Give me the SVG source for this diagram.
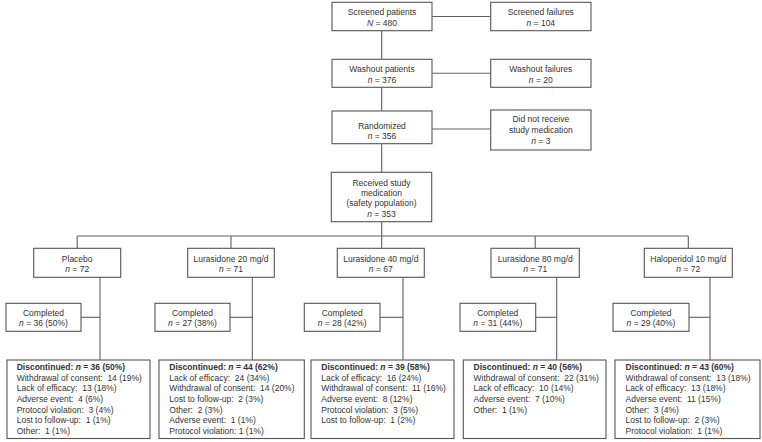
<svg xmlns="http://www.w3.org/2000/svg" width="762" height="442" viewBox="0 0 762 442">
<style>
  .box { fill: #ffffff; stroke: #555555; stroke-width: 1.1; }
  .ln { fill: none; stroke: #606060; stroke-width: 1.1; }
  text { font-family: "Liberation Sans", Arial, sans-serif; font-size: 8.5px; fill: #333333; white-space: pre; }
  .c { text-anchor: middle; }
  .b { font-weight: bold; }
  .i { font-style: italic; }
</style>
<rect width="762" height="442" fill="#ffffff"/>

<g id="connectors">
  <line class="ln" x1="432" y1="16.5" x2="490.7" y2="16.5"/>
  <line class="ln" x1="432" y1="73.3" x2="490.7" y2="73.3"/>
  <line class="ln" x1="432" y1="129" x2="490.7" y2="129"/>
  <line class="ln" x1="381.7" y1="30.7" x2="381.7" y2="59.3"/>
  <line class="ln" x1="381.7" y1="87.3" x2="381.7" y2="111"/>
  <line class="ln" x1="381.7" y1="143.7" x2="381.7" y2="172.3"/>
  <line class="ln" x1="381.7" y1="221.7" x2="381.7" y2="236"/>
  <line class="ln" x1="77.2" y1="236" x2="688.3" y2="236"/>
  <line class="ln" x1="77.2" y1="236" x2="77.2" y2="248.3"/>
  <line class="ln" x1="231" y1="236" x2="231" y2="248.3"/>
  <line class="ln" x1="381.7" y1="236" x2="381.7" y2="248.3"/>
  <line class="ln" x1="535.2" y1="236" x2="535.2" y2="248.3"/>
  <line class="ln" x1="688.3" y1="236" x2="688.3" y2="248.3"/>
  <line class="ln" x1="100" y1="277.3" x2="100" y2="360"/>
  <line class="ln" x1="252.3" y1="277.3" x2="252.3" y2="360"/>
  <line class="ln" x1="403" y1="277.3" x2="403" y2="360"/>
  <line class="ln" x1="556.7" y1="277.3" x2="556.7" y2="360"/>
  <line class="ln" x1="710" y1="277.3" x2="710" y2="360"/>
  <line class="ln" x1="81" y1="317.3" x2="100" y2="317.3"/>
  <line class="ln" x1="230" y1="317.3" x2="252.3" y2="317.3"/>
  <line class="ln" x1="380" y1="317.3" x2="403" y2="317.3"/>
  <line class="ln" x1="535.7" y1="317.3" x2="556.7" y2="317.3"/>
  <line class="ln" x1="689" y1="317.3" x2="710" y2="317.3"/>
</g>

<g id="screened">
  <rect class="box" x="332" y="2.3" width="100" height="28.4"/>
  <text class="c" x="382" y="15.3">Screened patients</text>
  <text class="c" x="382" y="26.3"><tspan class="i">N</tspan> = 480</text>
</g>
<g id="screened-failures">
  <rect class="box" x="490.7" y="2.3" width="100.3" height="28.4"/>
  <text class="c" x="540.8" y="15.3">Screened failures</text>
  <text class="c" x="540.8" y="26.3"><tspan class="i">n</tspan> = 104</text>
</g>
<g id="washout">
  <rect class="box" x="332" y="59.3" width="100" height="28"/>
  <text class="c" x="382" y="72.3">Washout patients</text>
  <text class="c" x="382" y="83"><tspan class="i">n</tspan> = 376</text>
</g>
<g id="washout-failures">
  <rect class="box" x="490.7" y="59.3" width="100.3" height="28"/>
  <text class="c" x="540.8" y="72.3">Washout failures</text>
  <text class="c" x="540.8" y="83"><tspan class="i">n</tspan> = 20</text>
</g>
<g id="randomized">
  <rect class="box" x="332" y="111" width="100" height="32.7"/>
  <text class="c" x="382" y="129">Randomized</text>
  <text class="c" x="382" y="139.3"><tspan class="i">n</tspan> = 356</text>
</g>
<g id="no-medication">
  <rect class="box" x="490.7" y="110" width="100.3" height="40"/>
  <text class="c" x="540.8" y="122.3">Did not receive</text>
  <text class="c" x="540.8" y="133.3">study medication</text>
  <text class="c" x="540.8" y="144"><tspan class="i">n</tspan> = 3</text>
</g>
<g id="received">
  <rect class="box" x="331.3" y="172.3" width="100.4" height="49.4"/>
  <text class="c" x="381.5" y="185.7">Received study</text>
  <text class="c" x="381.5" y="196.3">medication</text>
  <text class="c" x="381.5" y="206.3">(safety population)</text>
  <text class="c" x="381.5" y="216.5"><tspan class="i">n</tspan> = 353</text>
</g>

<g id="placebo">
  <rect class="box" x="33.7" y="248.3" width="87" height="29"/>
  <text class="c" x="77.2" y="262">Placebo</text>
  <text class="c" x="77.2" y="272.3"><tspan class="i">n</tspan> = 72</text>
</g>
<g id="lura20">
  <rect class="box" x="187.7" y="248.3" width="86.6" height="29"/>
  <text class="c" x="231" y="262">Lurasidone 20 mg/d</text>
  <text class="c" x="231" y="272.3"><tspan class="i">n</tspan> = 71</text>
</g>
<g id="lura40">
  <rect class="box" x="337.3" y="248.3" width="87" height="29"/>
  <text class="c" x="380.8" y="262">Lurasidone 40 mg/d</text>
  <text class="c" x="380.8" y="272.3"><tspan class="i">n</tspan> = 67</text>
</g>
<g id="lura80">
  <rect class="box" x="491" y="248.3" width="88.3" height="29"/>
  <text class="c" x="535.2" y="262">Lurasidone 80 mg/d</text>
  <text class="c" x="535.2" y="272.3"><tspan class="i">n</tspan> = 71</text>
</g>
<g id="halo10">
  <rect class="box" x="644.3" y="248.3" width="88" height="29"/>
  <text class="c" x="688.3" y="262">Haloperidol 10 mg/d</text>
  <text class="c" x="688.3" y="272.3"><tspan class="i">n</tspan> = 72</text>
</g>

<g id="placebo-completed">
  <rect class="box" x="6" y="303.3" width="75" height="28"/>
  <text class="c" x="43.5" y="316.3">Completed</text>
  <text class="c" x="43.5" y="326.3"><tspan class="i">n</tspan> = 36 (50%)</text>
</g>
<g id="lura20-completed">
  <rect class="box" x="155" y="303.3" width="75" height="28"/>
  <text class="c" x="192.5" y="316.3">Completed</text>
  <text class="c" x="192.5" y="326.3"><tspan class="i">n</tspan> = 27 (38%)</text>
</g>
<g id="lura40-completed">
  <rect class="box" x="304.3" y="303.3" width="75.7" height="28"/>
  <text class="c" x="342.2" y="316.3">Completed</text>
  <text class="c" x="342.2" y="326.3"><tspan class="i">n</tspan> = 28 (42%)</text>
</g>
<g id="lura80-completed">
  <rect class="box" x="460" y="303.3" width="75.7" height="28"/>
  <text class="c" x="497.8" y="316.3">Completed</text>
  <text class="c" x="497.8" y="326.3"><tspan class="i">n</tspan> = 31 (44%)</text>
</g>
<g id="halo10-completed">
  <rect class="box" x="613" y="303.3" width="76" height="28"/>
  <text class="c" x="651" y="316.3">Completed</text>
  <text class="c" x="651" y="326.3"><tspan class="i">n</tspan> = 29 (40%)</text>
</g>

<g id="placebo-discontinued">
  <rect class="box" x="7" y="360" width="143" height="78.5"/>
  <text x="16.7" y="370" class="b">Discontinued: <tspan class="i">n</tspan> = 36 (50%)</text>
  <text x="16.7" y="380.7">Withdrawal of consent:  14 (19%)</text>
  <text x="16.7" y="391.3">Lack of efficacy:  13 (18%)</text>
  <text x="16.7" y="402">Adverse event:  4 (6%)</text>
  <text x="16.7" y="412.7">Protocol violation:  3 (4%)</text>
  <text x="16.7" y="423.3">Lost to follow-up:  1 (1%)</text>
  <text x="16.7" y="434">Other:  1 (1%)</text>
</g>
<g id="lura20-discontinued">
  <rect class="box" x="159" y="360" width="145.3" height="78.5"/>
  <text x="169.3" y="370" class="b">Discontinued: <tspan class="i">n</tspan> = 44 (62%)</text>
  <text x="169.3" y="380.7">Lack of efficacy:  24 (34%)</text>
  <text x="169.3" y="391.3">Withdrawal of consent:  14 (20%)</text>
  <text x="169.3" y="402">Lost to follow-up:  2 (3%)</text>
  <text x="169.3" y="412.7">Other:  2 (3%)</text>
  <text x="169.3" y="423.3">Adverse event:  1 (1%)</text>
  <text x="169.3" y="434">Protocol violation: 1 (1%)</text>
</g>
<g id="lura40-discontinued">
  <rect class="box" x="311" y="360" width="143" height="78.5"/>
  <text x="321.3" y="370" class="b">Discontinued: <tspan class="i">n</tspan> = 39 (58%)</text>
  <text x="321.3" y="380.7">Lack of efficacy:  16 (24%)</text>
  <text x="321.3" y="391.3">Withdrawal of consent:  11 (16%)</text>
  <text x="321.3" y="402">Adverse event:  8 (12%)</text>
  <text x="321.3" y="412.7">Protocol violation:  3 (5%)</text>
  <text x="321.3" y="423.3">Lost to follow-up:  1 (2%)</text>
</g>
<g id="lura80-discontinued">
  <rect class="box" x="463.3" y="360" width="142.7" height="78.5"/>
  <text x="473.6" y="370" class="b">Discontinued: <tspan class="i">n</tspan> = 40 (56%)</text>
  <text x="473.6" y="380.7">Withdrawal of consent:  22 (31%)</text>
  <text x="473.6" y="391.3">Lack of efficacy:  10 (14%)</text>
  <text x="473.6" y="402">Adverse event:  7 (10%)</text>
  <text x="473.6" y="412.7">Other:  1 (1%)</text>
</g>
<g id="halo10-discontinued">
  <rect class="box" x="615" y="360" width="145" height="78.5"/>
  <text x="625.5" y="370" class="b">Discontinued: <tspan class="i">n</tspan> = 43 (60%)</text>
  <text x="625.5" y="380.7">Withdrawal of consent:  13 (18%)</text>
  <text x="625.5" y="391.3">Lack of efficacy:  13 (18%)</text>
  <text x="625.5" y="402">Adverse event:  11 (15%)</text>
  <text x="625.5" y="412.7">Other:  3 (4%)</text>
  <text x="625.5" y="423.3">Lost to follow-up:  2 (3%)</text>
  <text x="625.5" y="434">Protocol violation:  1 (1%)</text>
</g>
</svg>
